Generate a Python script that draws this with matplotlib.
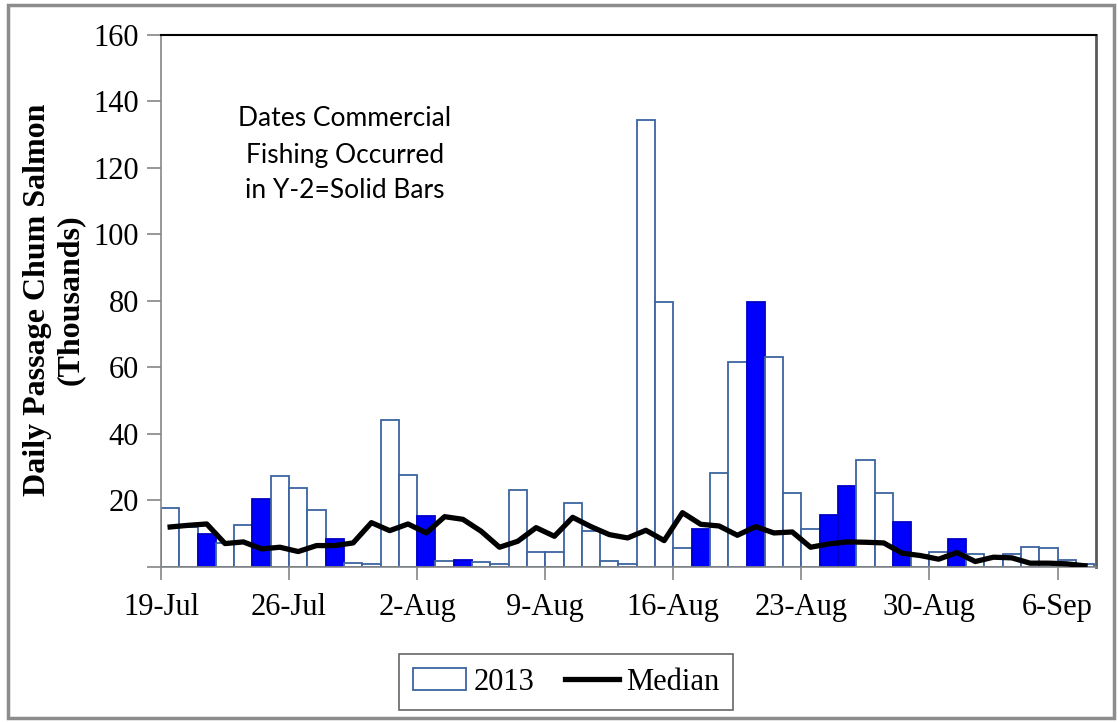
import matplotlib.pyplot as plt
from matplotlib.patches import Patch, Rectangle
from matplotlib.lines import Line2D

# daily passage 2013 (thousands), 19-Jul .. 8-Sep
passage_2013 = [17.5, 12.0, 9.9, 7.2, 12.5, 20.3, 27.1, 23.7, 17.0, 8.3,
                1.2, 0.9, 44.2, 27.6, 15.2, 1.6, 2.0, 1.3, 0.7, 23.0,
                4.3, 4.3, 19.0, 10.6, 1.6, 0.7, 134.5, 79.7, 5.5, 11.4,
                28.0, 61.5, 79.7, 63.2, 22.1, 11.3, 15.5, 24.1, 32.1, 22.1,
                13.5, 3.5, 4.3, 8.3, 3.7, 2.6, 3.9, 6.0, 5.5, 2.0, 0.8]

median = [11.9, 12.4, 12.8, 6.9, 7.4, 5.3, 5.8, 4.5, 6.3, 6.3,
          7.1, 13.2, 10.8, 12.8, 10.1, 15.0, 14.2, 10.6, 5.8, 7.6,
          11.7, 9.1, 14.8, 12.0, 9.6, 8.6, 10.9, 7.8, 16.2, 12.7,
          12.2, 9.4, 12.0, 10.1, 10.4, 5.8, 6.8, 7.4, 7.3, 7.1,
          4.0, 3.3, 2.2, 4.2, 1.5, 2.8, 2.6, 1.0, 1.0, 0.8, 0.2]

# days with commercial fishing in Y-2 (solid bars)
fishing_days = [2, 5, 9, 14, 16, 29, 32, 36, 37, 40, 43]

tick_days = [0, 7, 14, 21, 28, 35, 42, 49]
tick_labels = ['19-Jul', '26-Jul', '2-Aug', '9-Aug', '16-Aug', '23-Aug', '30-Aug', '6-Sep']

serif = ['Liberation Serif', 'DejaVu Serif']
edge = '#3C64A0'
grey = '#868686'

fig = plt.figure(figsize=(11.18, 7.22), dpi=100)
ax = fig.add_axes([161/1118, 1 - 566.5/722, (1096-161)/1118, (566.5-35)/722])

days = list(range(len(passage_2013)))
colors = ['#0000FF' if d in fishing_days else 'white' for d in days]
edges = ['#0000C8' if d in fishing_days else edge for d in days]
ax.bar(days, passage_2013, width=1.0, align='edge', color=colors,
       edgecolor=edges, linewidth=1.3, zorder=2)
ax.plot([d + 0.5 for d in days], median, color='black', lw=3.8, zorder=3,
        solid_joinstyle='round')

ax.set_xlim(0, 51.1)
ax.set_ylim(0, 160)
ax.set_yticks(range(0, 161, 20))
ax.set_yticklabels(['', '20', '40', '60', '80', '100', '120', '140', '160'])
ax.set_xticks(tick_days)
ax.set_xticklabels(tick_labels)
ax.tick_params(axis='both', color=grey, width=1.2, labelsize=22)
ax.tick_params(axis='y', length=10, pad=6)
ax.tick_params(axis='x', length=9, pad=10)
for lab in ax.get_xticklabels() + ax.get_yticklabels():
    lab.set_family(serif)

ax.spines['left'].set_color(grey)
ax.spines['bottom'].set_color(grey)
ax.spines['left'].set_linewidth(1.2)
ax.spines['bottom'].set_linewidth(1.2)
ax.spines['top'].set_color('black')
ax.spines['top'].set_linewidth(1.5)
ax.spines['right'].set_color('#595959')
ax.spines['right'].set_linewidth(2)

fig.text(54/1118, 1 - 300/722, 'Daily Passage Chum Salmon\n(Thousands)',
         rotation=90, ha='center', va='center', fontsize=23,
         fontweight='bold', family=serif, linespacing=1.2)

fig.text(345/1118, 1 - 155/722, 'Dates Commercial\nFishing Occurred\nin Y-2=Solid Bars',
         ha='center', va='center', fontsize=19, family=['Lato', 'DejaVu Sans'],
         linespacing=1.55)

handles = [Patch(facecolor='white', edgecolor=edge, linewidth=1.3),
           Line2D([0], [0], color='black', lw=3.8)]
leg = fig.legend(handles, ['2013', 'Median'], loc='center',
                 bbox_to_anchor=(566/1118, 1 - 682/722), ncol=2, frameon=True,
                 fancybox=False, edgecolor='#404040', prop={'family': serif, 'size': 22},
                 handlelength=1.75, handletextpad=0.25, columnspacing=1.0,
                 borderpad=0.45, borderaxespad=0)
leg.get_frame().set_linewidth(1.2)

fig.patches.append(Rectangle((8/1118, 4/722), 1 - 12/1118, 1 - 9/722,
                             transform=fig.transFigure, fill=False,
                             edgecolor='#8C8C8C', linewidth=2.5))

fig.savefig('out.png', dpi=100)
